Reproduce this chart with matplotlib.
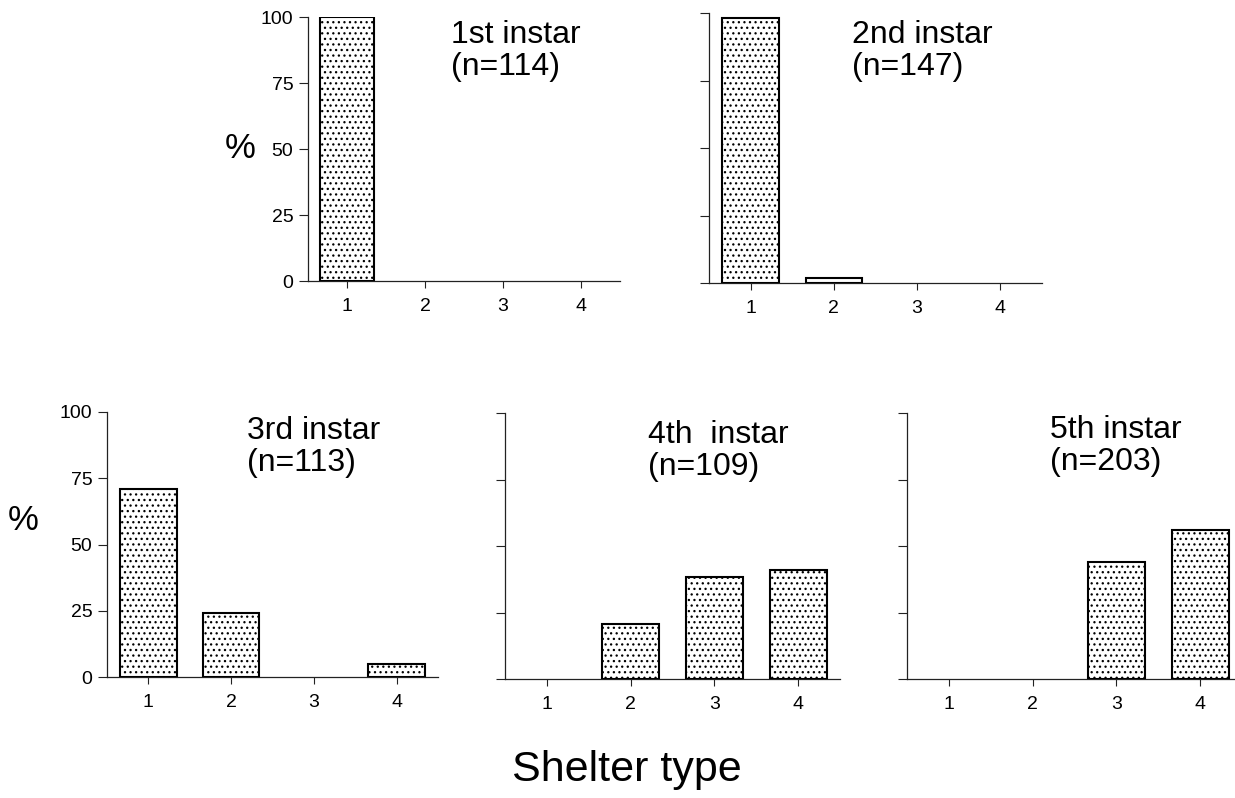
import matplotlib
matplotlib.use('Agg')
import matplotlib.pyplot as plt

plt.rcParams['font.family'] = ['Liberation Sans', 'DejaVu Sans']
plt.rcParams['hatch.color'] = '#3a3a3a'
plt.rcParams['hatch.linewidth'] = 0.9

# Shelter type (x categories)
shelter_types = [1, 2, 3, 4]

# percentage per shelter type for each instar
instar1 = [100, 0, 0, 0]
instar2 = [98, 2, 0, 0]
instar3 = [71, 24, 0, 5]
instar4 = [0, 20.5, 38.5, 41]
instar5 = [0, 0, 44, 56]

titles = ['1st instar\n(n=114)', '2nd instar\n(n=147)', '3rd instar\n(n=113)',
          '4th  instar\n(n=109)', '5th instar\n(n=203)']
y_ticks = [0, 25, 50, 75, 100]

W, H = 1235, 798
fig = plt.figure(figsize=(W / 100, H / 100), dpi=100)


def px_rect(left, right, top, bottom):
    return [left / W, (H - bottom) / H, (right - left) / W, (bottom - top) / H]


# axes boxes in pixels: left, right, top, bottom
boxes = [
    (308, 620, 17, 281),
    (709, 1042, 13, 283),
    (107, 438, 412, 677),
    (505, 840, 413, 679),
    (907, 1242, 413, 679),
]
# title anchor (left, top) in pixels
title_pos = [(451, 20), (852, 20), (247, 416), (648, 420), (1050, 415)]
show_ylabels = [True, False, True, False, False]

all_data = [instar1, instar2, instar3, instar4, instar5]

for i, vals in enumerate(all_data):
    ax = fig.add_axes(px_rect(*boxes[i]))
    xs = [x for x, v in zip(shelter_types, vals) if v > 0]
    hs = [v for v in vals if v > 0]
    ax.bar(xs, hs, width=0.68, color='white', edgecolor='black',
           linewidth=1.5, hatch='...', zorder=3)
    ax.set_xlim(0.5, 4.5)
    ax.set_ylim(0, 100)
    ax.set_xticks(shelter_types)
    ax.set_yticks(y_ticks)
    if not show_ylabels[i]:
        ax.set_yticklabels([])
    for side in ['top', 'right']:
        ax.spines[side].set_visible(False)
    for side in ['left', 'bottom']:
        ax.spines[side].set_linewidth(0.9)
        ax.spines[side].set_color('#222222')
    ax.tick_params(axis='y', length=6.5, width=0.8, pad=4, labelsize=14, color='#222222')
    ax.tick_params(axis='x', length=5, width=0.8, pad=7, labelsize=14, color='#222222')
    tx, ty = title_pos[i]
    fig.text(tx / W, 1 - ty / H, titles[i], ha='left', va='top',
             fontsize=23, linespacing=1.08)

# y-axis "%" labels
fig.text(225 / W, 1 - 148 / H, '%', fontsize=25, ha='left', va='center')
fig.text(8 / W, 1 - 521 / H, '%', fontsize=25, ha='left', va='center')

# common x label
fig.text(627 / W, 1 - 770 / H, 'Shelter type', fontsize=31, ha='center', va='center')

plt.savefig('out.png', dpi=100)
